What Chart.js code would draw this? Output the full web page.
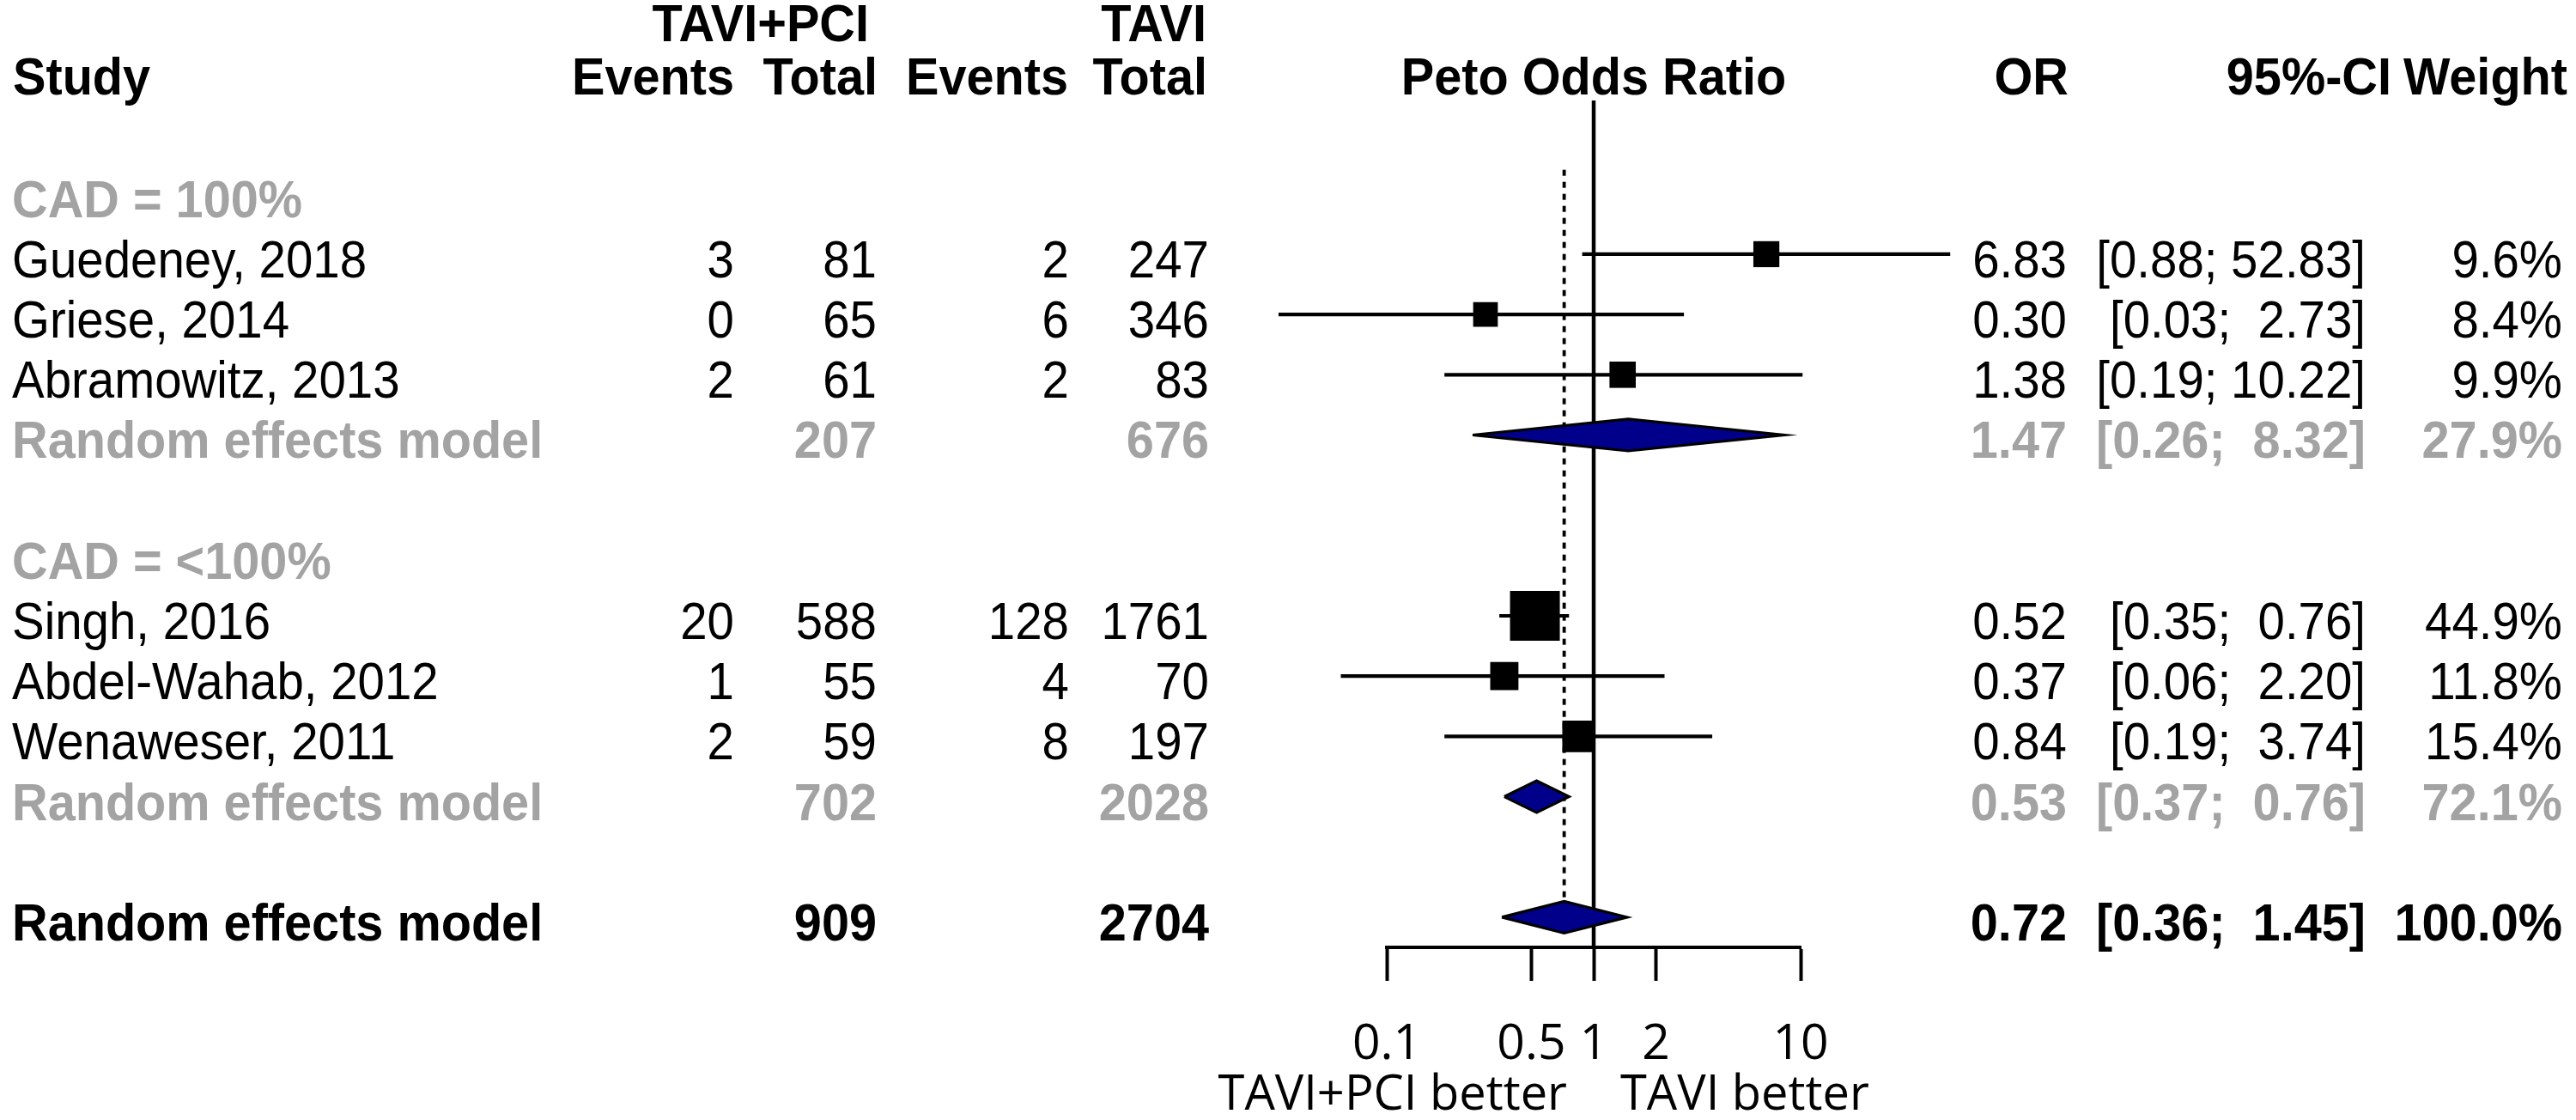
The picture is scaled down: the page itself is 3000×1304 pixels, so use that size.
<!DOCTYPE html>
<html>
<head>
<meta charset="utf-8">
<script src="https://cdn.jsdelivr.net/npm/chart.js@4/dist/chart.umd.min.js"></script>
<style>
  html, body { margin: 0; padding: 0; background: #ffffff; }
  canvas { display: block; }
</style>
</head>
<body>
<canvas id="forest" width="3000" height="1304" style="width:3000px;height:1304px"></canvas>
<script>
// ---------------- DATA ----------------
const studies   = ["Guedeney, 2018", "Griese, 2014", "Abramowitz, 2013", "Singh, 2016", "Abdel-Wahab, 2012", "Wenaweser, 2011"];
const studyRows = [3, 4, 5, 9, 10, 11];
const eventsE   = [3, 0, 2, 20, 1, 2];
const totalE    = [81, 65, 61, 588, 55, 59];
const eventsC   = [2, 6, 2, 128, 4, 8];
const totalC    = [247, 346, 83, 1761, 70, 197];
const orValues  = [6.83, 0.30, 1.38, 0.52, 0.37, 0.84];
const ciLower   = [0.88, 0.03, 0.19, 0.35, 0.06, 0.19];
const ciUpper   = [52.83, 2.73, 10.22, 0.76, 2.20, 3.74];
const weights   = [9.6, 8.4, 9.9, 44.9, 11.8, 15.4];

const subgroupLabels = ["CAD = 100%", "CAD = <100%"];
const subgroupRows   = [2, 8];
const summaryLabels  = ["Random effects model", "Random effects model", "Random effects model"];
const summaryRows    = [6, 12, 14];
const summaryTotalE  = [207, 702, 909];
const summaryTotalC  = [676, 2028, 2704];
const summaryOR      = [1.47, 0.53, 0.72];
const summaryLower   = [0.26, 0.37, 0.36];
const summaryUpper   = [8.32, 0.76, 1.45];
const summaryWeight  = [27.9, 72.1, 100.0];

const tickValues = [0.1, 0.5, 1, 2, 10];
const tickLabels = ["0.1", "0.5", "1", "2", "10"];
const labelLeft  = "TAVI+PCI better";
const labelRight = "TAVI better";
const groupHeaderE = "TAVI+PCI";
const groupHeaderC = "TAVI";

// ---------------- STYLE ----------------
const GREY = "#a3a3a3";
const NAVY = "#00008b";
const TABLE_FONT = '"Liberation Sans", Arial, Helvetica, sans-serif';
const AXIS_FONT = '"Open Sans", "Noto Sans", sans-serif';
const DIAMOND_HALF = 0.264;   // rows

function fmt2(v) { return v.toFixed(2); }
function fmtCI(lo, hi) { return "[" + fmt2(lo) + ";" + (hi < 10 ? "  " : " ") + fmt2(hi) + "]"; }
function fmtW(w) { return w.toFixed(1) + "%"; }
function squareSide(w) { return 6.4 + 7.7 * Math.sqrt(w); }

// ---------------- DATASETS ----------------
const datasets = [];

// reference line at OR = 1
datasets.push({
  type: "line", data: [{x: 1, y: 0.45}, {x: 1, y: 14.5}],
  borderColor: "#000", borderWidth: 4.5, pointRadius: 0, clip: false, order: 20, fill: false
});
// dashed line at pooled estimate
datasets.push({
  type: "line", data: [{x: summaryOR[2], y: 1.6}, {x: summaryOR[2], y: summaryRows[2] - DIAMOND_HALF}],
  borderColor: "#000", borderWidth: 3.8, borderDash: [7, 7], pointRadius: 0, clip: false, order: 19, fill: false
});
// confidence intervals
studies.forEach((s, i) => {
  datasets.push({
    type: "line", data: [{x: ciLower[i], y: studyRows[i]}, {x: ciUpper[i], y: studyRows[i]}],
    borderColor: "#000", borderWidth: 4.2, pointRadius: 0, clip: false, order: 10, fill: false
  });
});
// squares
datasets.push({
  type: "line", showLine: false,
  data: studies.map((s, i) => ({x: orValues[i], y: studyRows[i]})),
  pointStyle: "rect",
  pointRadius: weights.map(w => squareSide(w) / Math.SQRT2),
  pointBackgroundColor: "#000", pointBorderColor: "#000", pointBorderWidth: 0,
  clip: false, order: 2
});
// diamonds
summaryRows.forEach((r, i) => {
  datasets.push({
    type: "line",
    data: [
      {x: summaryLower[i], y: r},
      {x: summaryOR[i], y: r - DIAMOND_HALF},
      {x: summaryUpper[i], y: r},
      {x: summaryOR[i], y: r + DIAMOND_HALF},
      {x: summaryLower[i], y: r}
    ],
    borderColor: "#000", borderWidth: 3.2, backgroundColor: NAVY, fill: "shape",
    pointRadius: 0, tension: 0, clip: false, order: 1
  });
});

// ---------------- TEXT PLUGIN ----------------
function drawText(ctx, s, x, y, opt) {
  const o = Object.assign({align: "left", bold: false, color: "#000", size: 61, family: TABLE_FONT, sx: null}, opt || {});
  ctx.save();
  ctx.font = (o.bold ? "bold " : "") + o.size + "px " + o.family;
  ctx.fillStyle = o.color;
  ctx.textAlign = o.align;
  ctx.textBaseline = "alphabetic";
  ctx.translate(x, y);
  const sx = o.sx != null ? o.sx : (o.bold ? 0.945 : 0.925);
  ctx.scale(sx, 1);
  ctx.fillText(s, 0, 0);
  ctx.restore();
}

const tablePlugin = {
  id: "forestTable",
  afterDraw(chart) {
    const ctx = chart.ctx;
    const xs = chart.scales.x, ys = chart.scales.y;
    const rowY = k => ys.getPixelForValue(k);
    const BL = 27;            // baseline offset from row centre
    const col = {name: 14, ev1: 855, tot1: 1021, ev2: 1245, tot2: 1408, or: 2407, ci: 2755, w: 2984};

    // headers
    const h1 = rowY(0) - 37, h2 = rowY(0) + 25;
    drawText(ctx, groupHeaderE, 1012, h1, {align: "right", bold: true});
    drawText(ctx, groupHeaderC, 1405, h1, {align: "right", bold: true});
    drawText(ctx, "Study", 15, h2, {bold: true});
    drawText(ctx, "Events", 855, h2, {align: "right", bold: true});
    drawText(ctx, "Total", 1022, h2, {align: "right", bold: true});
    drawText(ctx, "Events", 1244, h2, {align: "right", bold: true});
    drawText(ctx, "Total", 1406, h2, {align: "right", bold: true});
    drawText(ctx, "Peto Odds Ratio", xs.getPixelForValue(1), h2, {align: "center", bold: true});
    drawText(ctx, "OR", 2409, h2, {align: "right", bold: true});
    drawText(ctx, "95%-CI", 2785, h2, {align: "right", bold: true});
    drawText(ctx, "Weight", 2990, h2, {align: "right", bold: true});

    // subgroup labels
    subgroupLabels.forEach((s, i) => {
      drawText(ctx, s, col.name, rowY(subgroupRows[i]) + BL, {bold: true, color: GREY});
    });

    // studies
    studies.forEach((s, i) => {
      const y = rowY(studyRows[i]) + BL;
      drawText(ctx, s, col.name, y);
      drawText(ctx, String(eventsE[i]), col.ev1, y, {align: "right"});
      drawText(ctx, String(totalE[i]), col.tot1, y, {align: "right"});
      drawText(ctx, String(eventsC[i]), col.ev2, y, {align: "right"});
      drawText(ctx, String(totalC[i]), col.tot2, y, {align: "right"});
      drawText(ctx, fmt2(orValues[i]), col.or, y, {align: "right"});
      drawText(ctx, fmtCI(ciLower[i], ciUpper[i]), col.ci, y, {align: "right"});
      drawText(ctx, fmtW(weights[i]), col.w, y, {align: "right"});
    });

    // summaries
    summaryRows.forEach((r, i) => {
      const y = rowY(r) + BL;
      const c = i < 2 ? GREY : "#000";
      drawText(ctx, summaryLabels[i], col.name, y, {bold: true, color: c});
      drawText(ctx, String(summaryTotalE[i]), col.tot1, y, {align: "right", bold: true, color: c});
      drawText(ctx, String(summaryTotalC[i]), col.tot2, y, {align: "right", bold: true, color: c});
      drawText(ctx, fmt2(summaryOR[i]), col.or, y, {align: "right", bold: true, color: c});
      drawText(ctx, fmtCI(summaryLower[i], summaryUpper[i]), col.ci, y, {align: "right", bold: true, color: c});
      drawText(ctx, fmtW(summaryWeight[i]), col.w, y, {align: "right", bold: true, color: c});
    });

    // favours labels
    const x1 = xs.getPixelForValue(1);
    drawText(ctx, labelLeft, x1 - 31, 1292, {align: "right", size: 56, family: AXIS_FONT, sx: 1});
    drawText(ctx, labelRight, x1 + 31, 1292, {align: "left", size: 56, family: AXIS_FONT, sx: 1});
  }
};

// ---------------- CHART ----------------
new Chart(document.getElementById("forest"), {
  type: "line",
  data: { datasets },
  plugins: [tablePlugin],
  options: {
    responsive: false,
    animation: false,
    events: [],
    layout: { padding: { left: 1615, right: 903, top: 85.4, bottom: 70 } },
    plugins: { legend: { display: false }, tooltip: { enabled: false }, title: { display: false } },
    scales: {
      x: {
        type: "logarithmic",
        min: 0.1, max: 10,
        afterBuildTicks: s => { s.ticks = tickValues.map(v => ({value: v})); },
        afterFit: s => { s.height = 131; },
        ticks: {
          callback: (v, i) => tickLabels[i],
          font: { family: AXIS_FONT, size: 57, lineHeight: 1 },
          color: "#000",
          padding: 46,
          maxRotation: 0, minRotation: 0, autoSkip: false
        },
        grid: { display: true, drawOnChartArea: false, drawTicks: true, tickLength: 39, tickWidth: 4, tickColor: "#000" },
        border: { display: true, color: "#000", width: 4 }
      },
      y: {
        type: "linear", reverse: true, min: 0, max: 14.5, display: false
      }
    }
  }
});
</script>
</body>
</html>
